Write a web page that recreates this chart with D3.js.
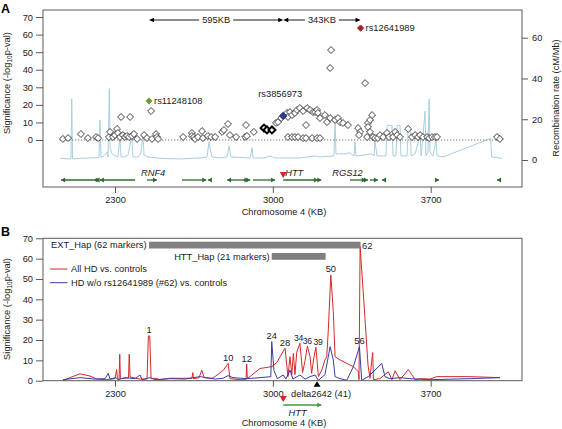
<!DOCTYPE html>
<html><head><meta charset="utf-8">
<script src="https://cdn.jsdelivr.net/npm/d3@7"></script>
<style>
body{margin:0;background:#fff;}
svg{font-family:"Liberation Sans",Arial,sans-serif;}
</style></head><body>
<svg id="c" width="562" height="429"></svg>
<script>
// ---------- DATA ----------
const xTicks=[2300,3000,3700];
const sigTicks=[0,10,20,30,40,50,60,70];
const recTicks=[0,20,40,60];

// Panel A SNPs [kb, -log10 p]
const snps=[[2069,0.6],[2092,1.1],[2149,3.4],[2180,1.1],[2216,1.7],[2225,1.1],[2273,1.7],[2278,4.6],[2291,1.7],[2300,2.8],[2309,6.3],[2313,4.0],[2322,1.7],[2327,13.1],[2335,2.8],[2344,1.7],[2353,2.3],[2362,1.7],[2367,13.1],[2375,2.3],[2384,3.4],[2398,0.6],[2429,2.8],[2442,1.1],[2460,16.5],[2464,0.6],[2482,3.4],[2486,1.7],[2491,0.6],
[2602,1.7],[2641,4.0],[2641,2.3],[2650,1.7],[2655,0.6],[2668,1.7],[2686,5.1],[2690,1.1],[2712,2.3],[2726,1.7],[2744,1.7],[2775,4.6],[2783,5.7],[2801,9.1],[2810,2.8],[2837,1.7],[2881,8.5],[2877,1.7],[2885,2.3],[2916,4.6],
[3014,9.7],[3023,10.2],[3037,12.5],[3063,15.4],[3076,15.9],[3067,13.1],[3085,14.2],[3098,15.4],[3107,17.1],[3120,18.2],[3134,16.5],[3152,18.2],[3165,17.1],[3178,15.9],[3187,15.9],[3196,17.1],[3200,15.4],[3209,12.5],[3231,14.2],[3240,10.2],[3147,8.5],[3254,12.5],[3276,11.4],[3289,12.5],[3298,10.2],[3311,9.7],[3333,8.5],[3258,51.2],[3254,41.0],[3409,32.4],
[3067,1.7],[3085,1.7],[3098,1.7],[3112,1.7],[3134,1.1],[3147,1.1],[3174,1.1],[3196,1.1],[3209,1.1],
[3378,6.8],[3387,4.6],[3382,2.8],[3422,9.7],[3431,11.4],[3440,14.2],[3422,7.4],[3431,4.6],[3418,1.7],[3444,1.7],[3453,1.1],[3466,1.1],[3475,2.8],[3489,1.7],[3506,4.0],[3515,1.7],[3533,1.7],[3542,4.6],[3551,2.8],[3564,1.7],[3600,6.3],[3617,1.7],[3631,2.8],[3644,1.7],[3653,2.8],[3666,1.7],[3684,1.7],[3693,1.1],[3706,1.7],[3719,1.7],[3728,1.7],[3994,1.7],[4007,0.6]];
const boldSnps=[[2961,6.8],[2974,5.7],[2996,5.7]];
const keyNames=["rs11248108","rs3856973","rs12641989"];
const keyKb=[2451,3046,3389];
const keySig=[22.2,13.7,63.7];
const keyColors=["#6b9a3c","#2e3a92","#a3201f"];

// recombination rate [kb, cM/Mb]
const recomb=[[2056,0.8],[2100,0.5],[2105,0.8],[2108,30],[2112,0.5],[2145,0.8],[2189,1],[2229,1.2],[2233,19.6],[2238,1.2],[2251,2],[2265,4],[2269,1.5],[2275,35],[2278,6],[2287,3],[2300,2],[2313,1.5],[2322,11],[2327,1.5],[2344,1.5],[2358,2.5],[2374,12],[2380,1.5],[2402,1.5],[2415,3.5],[2424,12],[2429,2.5],[2446,1.5],[2500,0.8],[2588,0.5],[2677,1],[2708,1.5],[2717,9],[2721,6],[2730,1.5],[2766,1],[2797,1.5],[2806,7],[2814,1.5],[2899,1],[2908,6],[2912,1],[2965,1],[2987,2],[3010,1],[3054,1],[3120,1],[3187,2],[3209,1.5],[3271,2],[3276,19.6],[3280,3],[3320,3],[3342,3.5],[3360,2],[3364,9],[3369,2],[3409,2.5],[3440,3],[3449,2],[3453,9],[3462,2],[3484,2],[3502,2],[3506,17],[3528,17],[3533,2],[3546,2],[3551,17],[3564,17],[3568,2],[3595,2],[3600,15.7],[3610,15.7],[3613,2],[3631,3],[3653,12],[3658,2],[3675,24],[3679,2],[3688,4],[3693,30],[3697,4],[3710,2],[3724,10],[3728,2],[3755,1.5],[3966,10.6],[3970,1.5],[4016,0.8]];

// genes [start kb, end kb, strand]
const genes=[[2061,2205,-1],[2205,2214,-1],[2214,2222,-1],[2233,2389,-1],[2442,2486,1],[2597,2705,1],[2712,2726,-1],[2797,2885,-1],[2870,2892,1],[2892,2900,1],[2912,3010,1],[3046,3200,1],[3200,3215,1],[3342,3412,1],[3412,3422,1],[3431,3466,1],[3484,3502,-1],[3728,3737,1],[3994,4007,-1]];
const geneNames=["RNF4","HTT","RGS12"];
const geneNameKb=[2469,3095,3331];
const distLabels=["595KB","343KB"];

// Panel B lines [kb, -log10 p]
const allHD=[[2069,0],[2100,1.5],[2145,3.4],[2189,2.3],[2220,0.8],[2256,0.5],[2287,0.8],[2300,1],[2307,5.5],[2311,1],[2318,0.5],[2321,13],[2324,1],[2344,1.2],[2360,1.5],[2363,13],[2367,1.8],[2380,1.5],[2411,0.8],[2442,0.8],[2448,22],[2454,22],[2460,1],[2477,1.2],[2500,0.5],[2544,1.2],[2610,1.2],[2641,1.2],[2645,4],[2648,1],[2673,1.5],[2685,5.2],[2695,1.5],[2721,1.2],[2735,1.3],[2779,5],[2802,8.5],[2810,1],[2854,0.5],[2881,0.5],[2884,8.2],[2887,1],[2943,6],[2995,6.9],[3018,9],[3032,11.8],[3054,16],[3067,2],[3076,11.8],[3084,3],[3091,13.5],[3098,3],[3106,14],[3120,18.4],[3132,4],[3143,10],[3153,17],[3165,12],[3172,3.6],[3183,12],[3191,16.4],[3202,2],[3217,5.2],[3231,10.2],[3239,11.8],[3246,25],[3257,52],[3268,34],[3276,11.8],[3298,10.2],[3328,8.5],[3357,6.9],[3379,4.4],[3382,0.5],[3387,65.9],[3409,30],[3422,7.7],[3431,1.2],[3438,9.3],[3443,13.8],[3446,0.5],[3475,1],[3512,4.4],[3528,0.5],[3542,4.9],[3564,0.5],[3601,5.5],[3631,0.5],[3653,1],[3697,0.8],[3727,2],[3874,2],[4007,1.5]];
const hdWo=[[2069,0.5],[2145,1.5],[2211,0.8],[2256,1],[2270,3.6],[2278,0.8],[2304,1.5],[2313,0.5],[2344,1.5],[2389,1],[2411,2.8],[2420,0.5],[2455,1.5],[2477,0.5],[2544,1],[2610,0.8],[2677,2],[2744,0.8],[2779,1.2],[2801,2.5],[2823,1.5],[2884,1],[2943,1.5],[2991,2],[2995,19.2],[3005,5],[3020,1],[3046,2.8],[3058,0.8],[3076,5.2],[3089,0.8],[3120,2.8],[3143,0.8],[3165,2],[3187,2.8],[3202,0.2],[3231,3],[3254,16.7],[3268,10.2],[3276,2],[3298,1],[3328,0.2],[3357,6.9],[3384,16.7],[3394,0.2],[3423,2],[3453,5.2],[3483,8.5],[3497,2],[3520,1],[3564,1.5],[3608,1],[3697,0.5],[3874,1],[4007,1.5]];
const markerIds=["1","10","12","24","28","34","36","39","50","56","62"];
const markerKb=[2451,2802,2884,2995,3054,3120,3153,3191,3257,3384,3387];
const markerSig=[22,8.5,8.2,19.2,16,18.4,17,16.4,52,16.7,65.9];
const hapNames=["EXT_Hap (62 markers)","HTT_Hap (21 markers)"];
const hapStart=[2451,2995];
const hapEnd=[3389,3234];
const seriesNames=["All HD vs. controls","HD w/o rs12641989 (#62) vs. controls"];
const deltaKb=3196, deltaLabel="delta2642 (41)";

// ---------- DRAW ----------
const svg=d3.select("#c");
const FS=9.3, txt="#1a1a1a", frame="#5a5a5a";
const x=d3.scaleLinear().domain([1980.7,4104.9]).range([43,522]);
const A={l:43,r:522,t:10,b:187};
const B={l:43,r:522,t:238.3,b:380.7};
const yA=d3.scaleLinear().domain([-26.75,74]).range([A.b,A.t]);
const yR=d3.scaleLinear().domain([-13.25,73.6]).range([A.b,A.t]);
const yB=d3.scaleLinear().domain([0,70]).range([B.b,B.t]);

function styleAxis(g){
  g.select(".domain").remove();
  g.selectAll("line").attr("stroke",frame);
  g.selectAll("text").attr("fill",txt).style("font-size",FS+"px").style("font-family","Liberation Sans, Arial, sans-serif");
}
const diamond={draw(ctx,size){const r=Math.sqrt(size)/2;ctx.moveTo(0,-r);ctx.lineTo(r,0);ctx.lineTo(0,r);ctx.lineTo(-r,0);ctx.closePath();}};
const sym=d3.symbol().type(diamond).size(48);

// ===== Panel A =====
const gA=svg.append("g");
gA.append("path").datum(recomb).attr("fill","none").attr("stroke","#a9cfe0").attr("stroke-width",1)
  .attr("d",d3.line().x(d=>x(d[0])).y(d=>yR(d[1])));
gA.append("line").attr("x1",x(2056)).attr("x2",x(4016)).attr("y1",yA(0)).attr("y2",yA(0))
  .attr("stroke","#777").attr("stroke-dasharray","1.3,1.7").attr("stroke-width",1);
gA.selectAll(".snp").data(snps).join("path").attr("class","snp")
  .attr("transform",d=>`translate(${x(d[0])},${yA(d[1])})`).attr("d",sym)
  .attr("fill","#fff").attr("stroke","#111").attr("stroke-width",0.8);
gA.selectAll(".bsnp").data(boldSnps).join("path").attr("class","bsnp")
  .attr("transform",d=>`translate(${x(d[0])},${yA(d[1])})`).attr("d",sym)
  .attr("fill","#fff").attr("stroke","#000").attr("stroke-width",2);
keyKb.forEach((k,i)=>{
  gA.append("path").attr("transform",`translate(${x(k)},${yA(keySig[i])})`).attr("d",d3.symbol().type(diamond).size(i===1?60:40))
    .attr("fill",keyColors[i]).attr("stroke",keyColors[i]).attr("stroke-width",0.8);
});
gA.append("text").attr("x",x(keyKb[0])+5).attr("y",yA(keySig[0])+3.3).text(keyNames[0]).attr("font-size",FS).attr("fill",txt);
gA.append("text").attr("x",x(keyKb[1])-3).attr("y",yA(keySig[1])-18.5).attr("text-anchor","middle").text(keyNames[1]).attr("font-size",FS).attr("fill",txt);
gA.append("text").attr("x",x(keyKb[2])+5).attr("y",yA(keySig[2])+3.3).text(keyNames[2]).attr("font-size",FS).attr("fill",txt);

const arrY=20;
function hArrow(k1,k2,label){
  const x1=x(k1),x2=x(k2),xm=(x1+x2)/2;
  gA.append("text").attr("x",xm).attr("y",arrY+3.3).attr("text-anchor","middle").attr("font-size",FS).attr("fill",txt).text(label);
  const hw=17;
  gA.append("line").attr("x1",x1+4).attr("x2",xm-hw).attr("y1",arrY).attr("y2",arrY).attr("stroke","#000").attr("stroke-width",0.9);
  gA.append("line").attr("x1",xm+hw).attr("x2",x2-4).attr("y1",arrY).attr("y2",arrY).attr("stroke","#000").attr("stroke-width",0.9);
  gA.append("path").attr("d",`M${x1},${arrY}L${x1+5},${arrY-2.3}L${x1+5},${arrY+2.3}Z`).attr("fill","#000");
  gA.append("path").attr("d",`M${x2},${arrY}L${x2-5},${arrY-2.3}L${x2-5},${arrY+2.3}Z`).attr("fill","#000");
}
hArrow(keyKb[0],keyKb[1],distLabels[0]);
hArrow(keyKb[1],keyKb[2],distLabels[1]);

const gy=180;
function geneArrow(g,d,y,color){
  const x1=x(d[0]),x2=x(d[1]);
  g.append("line").attr("x1",x1).attr("x2",x2).attr("y1",y).attr("y2",y).attr("stroke",color).attr("stroke-width",1.3);
  const tip=d[2]>0?x2:x1, dir=d[2]>0?-1:1;
  g.append("path").attr("d",`M${tip},${y}L${tip+dir*4},${y-2.4}L${tip+dir*4},${y+2.4}Z`).attr("fill",color);
}
genes.forEach(d=>geneArrow(gA,d,gy,"#2f6b2f"));
geneNames.forEach((n,i)=>gA.append("text").attr("x",x(geneNameKb[i])).attr("y",gy-4).attr("text-anchor","middle")
  .attr("font-size",FS).attr("font-style","italic").attr("fill",txt).text(n));
gA.append("path").attr("d",`M${x(3046)-3.5},${gy-8}L${x(3046)+3.5},${gy-8}L${x(3046)},${gy-2}Z`).attr("fill","#d0262a");

gA.append("rect").attr("x",A.l).attr("y",A.t).attr("width",A.r-A.l).attr("height",A.b-A.t).attr("fill","none").attr("stroke",frame).attr("stroke-width",1);
gA.append("g").attr("transform",`translate(${A.l},0)`).call(d3.axisLeft(yA).tickValues(sigTicks).tickSize(7).tickPadding(3)).call(styleAxis);
gA.append("g").attr("transform",`translate(${A.r},0)`).call(d3.axisRight(yR).tickValues(recTicks).tickSize(6).tickPadding(4)).call(styleAxis);
gA.append("g").attr("transform",`translate(0,${A.b})`).call(d3.axisBottom(x).tickValues(xTicks).tickFormat(d3.format("d")).tickSize(6).tickPadding(3)).call(styleAxis);
gA.append("text").attr("x",284).attr("y",215).attr("text-anchor","middle").attr("font-size",FS).attr("fill",txt).text("Chromosome 4 (KB)");
function sigTitle(g,cy){
  const t=g.append("text").attr("transform",`translate(9.5,${cy}) rotate(-90)`).attr("text-anchor","middle").attr("font-size",FS).attr("fill",txt);
  t.append("tspan").text("Significance (-log");
  t.append("tspan").text("10").attr("font-size",6.5).attr("dy",2.5);
  t.append("tspan").text("p-val)").attr("dy",-2.5);
}
sigTitle(gA,83);
gA.append("text").attr("transform",`translate(559,98) rotate(-90)`).attr("text-anchor","middle").attr("font-size",FS).attr("fill",txt).text("Recombination rate (cM/Mb)");
svg.append("text").attr("x",1).attr("y",13).attr("font-size",12.5).attr("font-weight","bold").attr("fill","#000").text("A");

// ===== Panel B =====
const gB=svg.append("g");
gB.append("path").datum(allHD).attr("fill","none").attr("stroke","#d42a2a").attr("stroke-width",1).attr("stroke-linejoin","round")
  .attr("d",d3.line().x(d=>x(d[0])).y(d=>yB(d[1])));
gB.append("path").datum(hdWo).attr("fill","none").attr("stroke","#3d3aa8").attr("stroke-width",1).attr("stroke-linejoin","round")
  .attr("d",d3.line().x(d=>x(d[0])).y(d=>yB(d[1])));
gB.append("rect").attr("x",x(hapStart[0])).attr("width",x(hapEnd[0])-x(hapStart[0])).attr("y",241.7).attr("height",6.8).attr("fill","#808080");
gB.append("rect").attr("x",x(hapStart[1])).attr("width",x(hapEnd[1])-x(hapStart[1])).attr("y",253).attr("height",6.8).attr("fill","#808080");
gB.append("text").attr("x",51).attr("y",248.3).attr("font-size",FS).attr("fill",txt).text(hapNames[0]);
gB.append("text").attr("x",x(hapStart[1])-2).attr("y",259.8).attr("text-anchor","end").attr("font-size",FS).attr("fill",txt).text(hapNames[1]);
const legC=["#d42a2a","#3d3aa8"];
[269,282.7].forEach((ly,i)=>{
  gB.append("line").attr("x1",50).attr("x2",67.5).attr("y1",ly).attr("y2",ly).attr("stroke",legC[i]).attr("stroke-width",1);
  gB.append("text").attr("x",71).attr("y",ly+3.3).attr("font-size",FS).attr("fill",txt).text(seriesNames[i]);
});
const labNudge={"34":-1.5,"36":0,"39":2};
markerIds.forEach((m,i)=>{
  const last=m==="62";
  const nx=labNudge[m]||0;
  const tight=m==="34"||m==="36"||m==="39";
  gB.append("text").attr("x",x(markerKb[i])+(last?2:nx)).attr("y",yB(markerSig[i])+(last?2:-2.5))
    .attr("text-anchor",last?"start":"middle").attr("font-size",tight?8.6:FS).attr("letter-spacing",tight?-0.3:0).attr("fill",txt).text(m);
});
gB.append("rect").attr("x",B.l).attr("y",B.t).attr("width",B.r-B.l).attr("height",B.b-B.t).attr("fill","none").attr("stroke",frame).attr("stroke-width",1);
gB.append("g").attr("transform",`translate(${B.l},0)`).call(d3.axisLeft(yB).tickValues(sigTicks).tickSize(7).tickPadding(3)).call(styleAxis);
gB.append("g").attr("transform",`translate(0,${B.b})`).call(d3.axisBottom(x).tickValues(xTicks).tickFormat(d3.format("d")).tickSize(6).tickPadding(4)).call(styleAxis);
gB.append("path").attr("d",`M${x(deltaKb)},${B.b+0.5}L${x(deltaKb)-3.5},${B.b+6}L${x(deltaKb)+3.5},${B.b+6}Z`).attr("fill","#000");
gB.append("text").attr("x",x(deltaKb)+4).attr("y",396.8).attr("text-anchor","middle").attr("font-size",FS).attr("fill",txt).text(deltaLabel);
gB.append("path").attr("d",`M${x(3046)-3.5},${396}L${x(3046)+3.5},${396}L${x(3046)},${402}Z`).attr("fill","#d0262a");
geneArrow(gB,[3046,3215,1],405,"#3f9a3f");
gB.append("text").attr("x",x(3110)).attr("y",415.5).attr("text-anchor","middle").attr("font-size",FS).attr("font-style","italic").attr("fill",txt).text("HTT");
gB.append("text").attr("x",284).attr("y",426).attr("text-anchor","middle").attr("font-size",FS).attr("fill",txt).text("Chromosome 4 (KB)");
sigTitle(gB,309);
svg.append("text").attr("x",1).attr("y",236).attr("font-size",12.5).attr("font-weight","bold").attr("fill","#000").text("B");
</script>
</body></html>
